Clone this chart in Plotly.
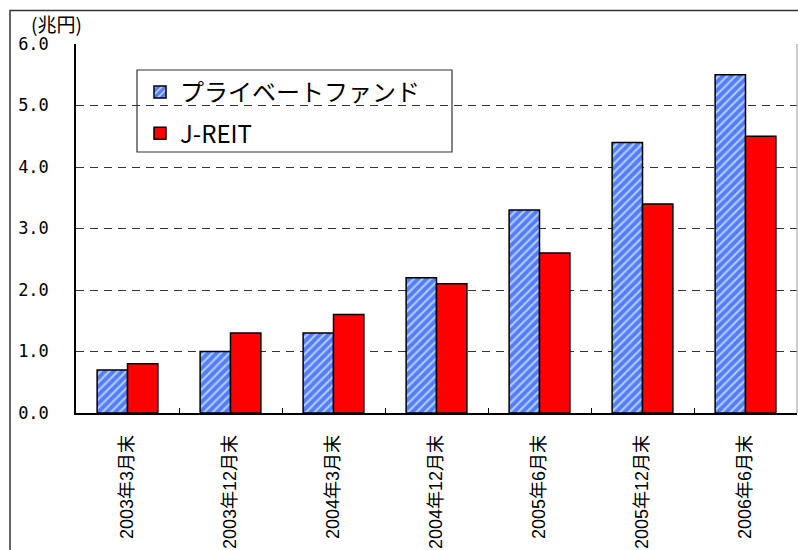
import plotly.graph_objects as go

categories = ["2003年3月末", "2003年12月末", "2004年3月末", "2004年12月末",
              "2005年6月末", "2005年12月末", "2006年6月末"]
private_fund = [0.7, 1.0, 1.3, 2.2, 3.3, 4.4, 5.5]
jreit = [0.8, 1.3, 1.6, 2.1, 2.6, 3.4, 4.5]
series_names = ["プライベートファンド", "J-REIT"]
y_ticks = [0, 1, 2, 3, 4, 5, 6]
unit_label = "(兆円)"

W, H = 798, 550
L, R, T, B = 76, 1, 44, 137
pw, ph = W - L - R, H - T - B


def px(x):
    return (x - L) / pw


def py(y):
    return (H - B - y) / ph


fig = go.Figure()
fig.add_trace(go.Bar(
    x=categories, y=private_fund, name=series_names[0],
    legendgroup="a",
    marker=dict(color="#a8d4ff", line=dict(color="black", width=1.5),
                pattern=dict(shape="/", fgcolor="#0a1eff", bgcolor="#a8d4ff",
                             size=6, solidity=0.65)),
))
fig.add_trace(go.Bar(
    x=categories, y=jreit, name=series_names[1],
    legendgroup="b",
    marker=dict(color="#ff0000", line=dict(color="black", width=1.5)),
))

fig.update_layout(
    width=W, height=H,
    margin=dict(l=L, r=R, t=T, b=B, autoexpand=False),
    paper_bgcolor="white", plot_bgcolor="white",
    barmode="group", bargap=0.41, bargroupgap=0,
    font=dict(family="Noto Sans CJK JP", color="black"),
    showlegend=True,
    legend=dict(
        x=px(140), y=py(70), xanchor="left", yanchor="top",
        bgcolor="rgba(0,0,0,0)", borderwidth=0,
        font=dict(size=24, family="Noto Sans CJK JP", color="black"),
        traceorder="grouped", tracegroupgap=7,
        itemwidth=30,
    ),
    xaxis=dict(
        automargin=False,
        showline=True, linecolor="black", linewidth=1.5,
        ticks="inside", tickson="boundaries", ticklen=5, tickcolor="black",
        tickangle=-90, ticklabelstandoff=13,
        tickfont=dict(family="Liberation Sans, Noto Sans CJK JP", size=18),
        showgrid=False,
    ),
    yaxis=dict(
        automargin=False,
        range=[0, 6], tickvals=y_ticks, tickformat=".1f",
        showline=True, linecolor="black", linewidth=1.5,
        ticks="", ticklabelstandoff=22,
        tickfont=dict(family="DejaVu Sans Mono", size=17),
        showgrid=True, gridcolor="#333333", gridwidth=1, griddash="8px,6px",
        zeroline=False,
    ),
    shapes=[
        # legend box
        dict(type="rect", xref="paper", yref="paper",
             x0=px(137), x1=px(452), y0=py(152), y1=py(70),
             line=dict(color="#333333", width=1.2), fillcolor="rgba(0,0,0,0)",
             layer="below"),
        # outer chart border
        dict(type="rect", xref="paper", yref="paper",
             x0=px(10), x1=px(820), y0=py(580), y1=py(10.5),
             line=dict(color="#333333", width=1.5), fillcolor="rgba(0,0,0,0)"),
        # right plot-area edge
        dict(type="line", xref="paper", yref="paper",
             x0=1, x1=1, y0=0, y1=1,
             line=dict(color="#999999", width=1)),
    ],
    annotations=[
        dict(text=unit_label, xref="paper", yref="paper",
             x=px(29), y=py(23), xanchor="left", yanchor="middle",
             showarrow=False, font=dict(size=19, family="Noto Sans CJK JP")),
    ],
)

fig.write_html("out.html")
